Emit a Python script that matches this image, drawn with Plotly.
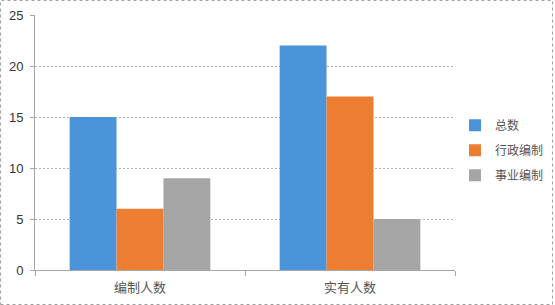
import plotly.graph_objects as go

categories = ["编制人数", "实有人数"]
series_names = ["总数", "行政编制", "事业编制"]
total = [15, 22]
admin = [6, 17]
public = [9, 5]
colors = ["#4C94DA", "#ED7D31", "#A5A5A5"]

fig = go.Figure()
for name, vals, c in zip(series_names, [total, admin, public], colors):
    fig.add_trace(go.Bar(name=name, x=categories, y=vals, legendgroup=name,
                         marker=dict(color=c, line=dict(width=0))))

W, H = 555, 305
L, R, T, B = 35, 100, 15, 35
pw, ph = W - L - R, H - T - B

fig.update_layout(
    width=W, height=H,
    margin=dict(l=L, r=R, t=T, b=B, pad=0, autoexpand=False),
    paper_bgcolor="white", plot_bgcolor="white",
    barmode="group", bargap=0.33, bargroupgap=0,
    font=dict(family="Noto Sans CJK SC, DejaVu Sans", size=12, color="#444444"),
    showlegend=True,
    legend=dict(x=1.0, y=0.47, yanchor="middle", xanchor="left", bgcolor="rgba(0,0,0,0)",
                font=dict(family="Noto Sans CJK SC", size=12, color="#555555"),
                tracegroupgap=6, itemwidth=30),
    xaxis=dict(showline=True, linecolor="#A6A6A6", linewidth=1,
               ticks="outside", tickson="boundaries", ticklen=5, tickcolor="#A6A6A6",
               ticklabelstandoff=5,
               tickfont=dict(family="Noto Sans CJK SC", size=13, color="#555555")),
    yaxis=dict(range=[0, 25], dtick=5, showline=True, linecolor="#A6A6A6", linewidth=1,
               ticks="outside", ticklen=4, tickcolor="#A6A6A6",
               ticklabelstandoff=4,
               showgrid=True, gridcolor="#B0B0B0", griddash="2px,2px", gridwidth=1,
               zeroline=False,
               tickfont=dict(family="Liberation Sans", size=13, color="#333333")),
)

fig.add_shape(type="rect", xref="paper", yref="paper",
              x0=-(L - 0.5) / pw, x1=1 + (R - 2.5) / pw,
              y0=-(B - 0.5) / ph, y1=1 + (T - 0.5) / ph,
              line=dict(color="#A0A0A0", width=1, dash="dot"), layer="below")

fig.write_html("out.html")
